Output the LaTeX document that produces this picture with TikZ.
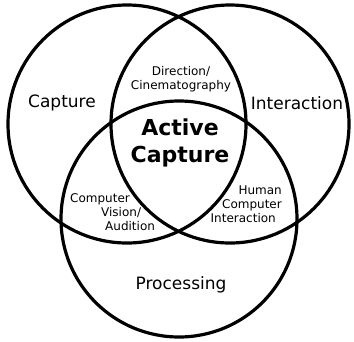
\documentclass[tikz,border=0pt]{standalone}
\usepackage{fontspec}
\setmainfont{DejaVu Sans}
\usepackage{tikz}
\usetikzlibrary{positioning}

\begin{document}
\begin{tikzpicture}[x=1pt,y=-1pt]
  \tikzstyle{ring}=[draw=black,line width=3.2pt]
  \tikzstyle{area}=[inner sep=0pt,font=\fontsize{17}{20}\selectfont]
  \tikzstyle{overlap}=[inner sep=0pt,font=\fontsize{12}{14}\selectfont]
  \tikzstyle{core}=[inner sep=0pt,align=center,font=\bfseries\fontsize{22}{27}\selectfont]
  \useasboundingbox (0,0) rectangle (354,341);
  % the three fields
  \coordinate (capc) at (127,124);
  \coordinate (intc) at (230,124);
  \coordinate (proc) at (179,219);
  \draw[ring] (capc) circle[radius=119pt];
  \draw[ring] (intc) circle[radius=119pt];
  \draw[ring] (proc) circle[radius=118pt];
  % labels
  \node[area] (capture) at (62,103) {Capture};
  \node[area] (interaction) at (297,103) {Interaction};
  \node[area] (processing) at (181,285) {Processing};
  \node[core] (active) at (180,143) {Active\\Capture};
  \node[overlap,align=center] (direction) at (181,79) {Direction/\\Cinematography};
  \node[overlap,align=left,anchor=west] (vision) at (70,212)
    {Computer\\\hspace*{31pt}Vision/\\\hspace*{35pt}Audition};
  \node[overlap,align=right,anchor=east] (hci) at (282,204)
    {Human\\Computer\hspace*{2pt}\\Interaction\hspace*{6pt}};
\end{tikzpicture}
\end{document}
